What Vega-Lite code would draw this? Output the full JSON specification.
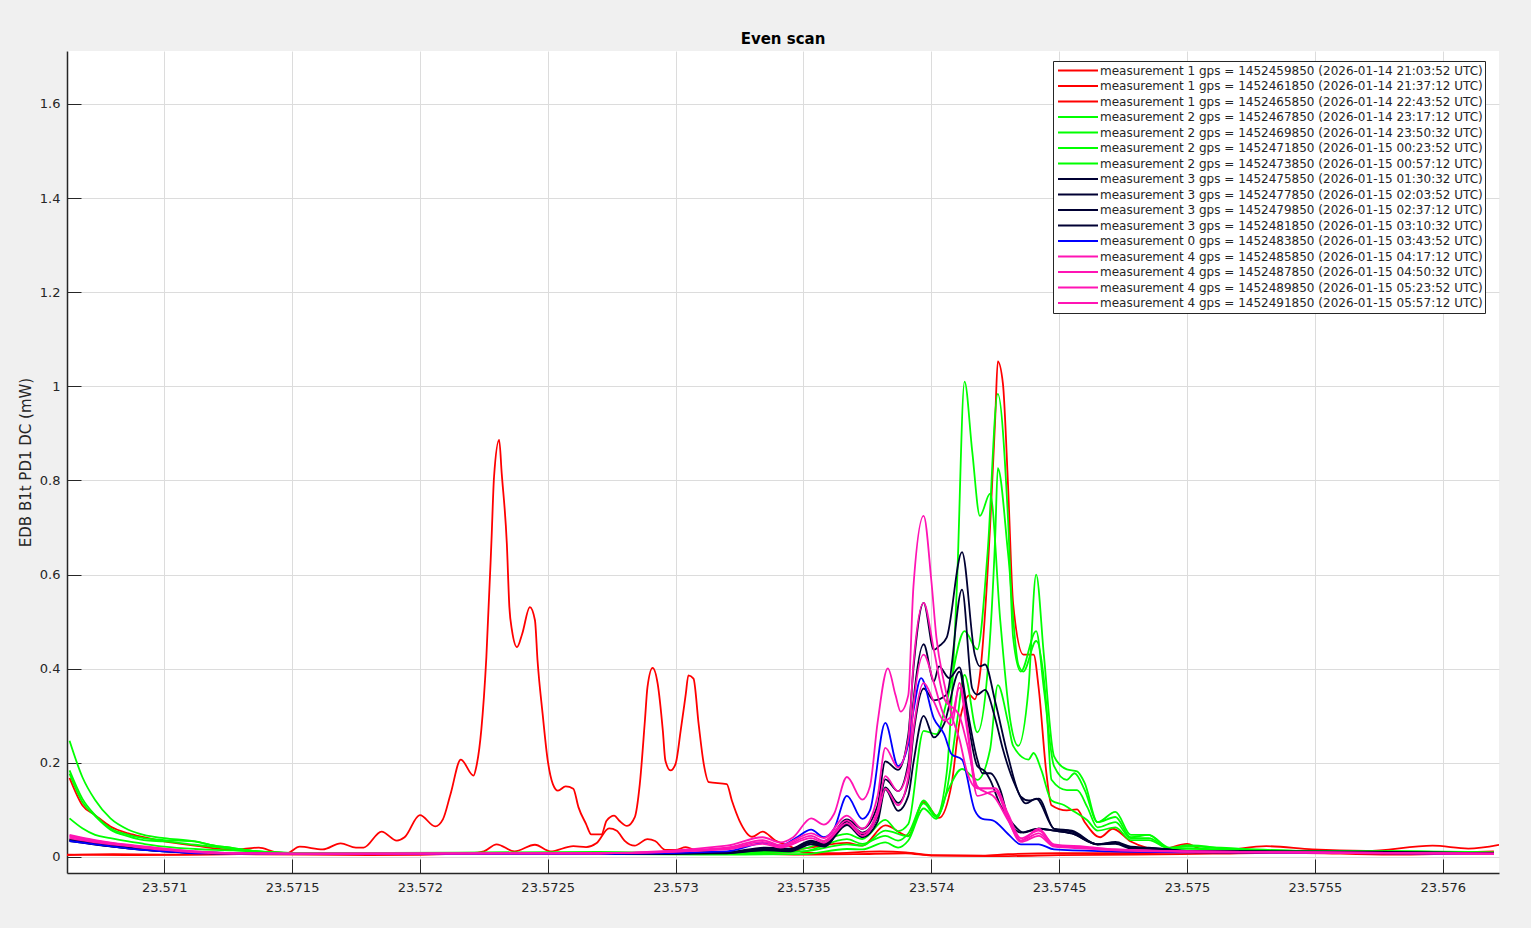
{"$schema":"https://vega.github.io/schema/vega-lite/v6.json","width":1432,"height":822,"autosize":{"type":"none"},"padding":{"left":67,"top":51,"right":32,"bottom":55},"background":"#f0f0f0","view":{"fill":"white","stroke":null},"title":{"text":"Even scan","font":"DejaVu Sans","fontSize":15,"fontWeight":"bold","color":"#000000","offset":4,"anchor":"middle"},"datasets":{"meta":[{"s":1,"name":"measurement 1 gps = 1452459850 (2026-01-14 21:03:52 UTC)"},{"s":2,"name":"measurement 1 gps = 1452461850 (2026-01-14 21:37:12 UTC)"},{"s":3,"name":"measurement 1 gps = 1452465850 (2026-01-14 22:43:52 UTC)"},{"s":4,"name":"measurement 2 gps = 1452467850 (2026-01-14 23:17:12 UTC)"},{"s":5,"name":"measurement 2 gps = 1452469850 (2026-01-14 23:50:32 UTC)"},{"s":6,"name":"measurement 2 gps = 1452471850 (2026-01-15 00:23:52 UTC)"},{"s":7,"name":"measurement 2 gps = 1452473850 (2026-01-15 00:57:12 UTC)"},{"s":8,"name":"measurement 3 gps = 1452475850 (2026-01-15 01:30:32 UTC)"},{"s":9,"name":"measurement 3 gps = 1452477850 (2026-01-15 02:03:52 UTC)"},{"s":10,"name":"measurement 3 gps = 1452479850 (2026-01-15 02:37:12 UTC)"},{"s":11,"name":"measurement 3 gps = 1452481850 (2026-01-15 03:10:32 UTC)"},{"s":12,"name":"measurement 0 gps = 1452483850 (2026-01-15 03:43:52 UTC)"},{"s":13,"name":"measurement 4 gps = 1452485850 (2026-01-15 04:17:12 UTC)"},{"s":14,"name":"measurement 4 gps = 1452487850 (2026-01-15 04:50:32 UTC)"},{"s":15,"name":"measurement 4 gps = 1452489850 (2026-01-15 05:23:52 UTC)"},{"s":16,"name":"measurement 4 gps = 1452491850 (2026-01-15 05:57:12 UTC)"}],
"rows":[
{"s":1,"x":23.57062,"y":0.004},{"s":1,"x":23.5708,"y":0.006},{"s":1,"x":23.571,"y":0.005},{"s":1,"x":23.5713,"y":0.006},{"s":1,"x":23.57148,"y":0.008},{"s":1,"x":23.57153,"y":0.022},{"s":1,"x":23.57162,"y":0.016},{"s":1,"x":23.57169,"y":0.029},{"s":1,"x":23.57175,"y":0.02},{"s":1,"x":23.57178,"y":0.02},{"s":1,"x":23.57185,"y":0.054},{"s":1,"x":23.57191,"y":0.035},{"s":1,"x":23.57194,"y":0.042},{"s":1,"x":23.572,"y":0.089},{"s":1,"x":23.57206,"y":0.065},{"s":1,"x":23.57209,"y":0.08},{"s":1,"x":23.57212,"y":0.134},{"s":1,"x":23.57216,"y":0.207},{"s":1,"x":23.57221,"y":0.173},{"s":1,"x":23.57222,"y":0.19},{"s":1,"x":23.57224,"y":0.269},{"s":1,"x":23.57226,"y":0.425},{"s":1,"x":23.57228,"y":0.673},{"s":1,"x":23.57229,"y":0.808},{"s":1,"x":23.57231,"y":0.886},{"s":1,"x":23.57232,"y":0.815},{"s":1,"x":23.57234,"y":0.666},{"s":1,"x":23.57235,"y":0.531},{"s":1,"x":23.57236,"y":0.482},{"s":1,"x":23.57238,"y":0.446},{"s":1,"x":23.5724,"y":0.474},{"s":1,"x":23.57243,"y":0.531},{"s":1,"x":23.57245,"y":0.503},{"s":1,"x":23.57246,"y":0.418},{"s":1,"x":23.57248,"y":0.304},{"s":1,"x":23.5725,"y":0.205},{"s":1,"x":23.57252,"y":0.155},{"s":1,"x":23.57254,"y":0.141},{"s":1,"x":23.57257,"y":0.15},{"s":1,"x":23.5726,"y":0.145},{"s":1,"x":23.57262,"y":0.106},{"s":1,"x":23.57265,"y":0.07},{"s":1,"x":23.57267,"y":0.048},{"s":1,"x":23.57271,"y":0.048},{"s":1,"x":23.57273,"y":0.077},{"s":1,"x":23.57276,"y":0.088},{"s":1,"x":23.57278,"y":0.077},{"s":1,"x":23.57281,"y":0.066},{"s":1,"x":23.57284,"y":0.084},{"s":1,"x":23.57286,"y":0.155},{"s":1,"x":23.57288,"y":0.29},{"s":1,"x":23.57289,"y":0.361},{"s":1,"x":23.57291,"y":0.402},{"s":1,"x":23.57293,"y":0.368},{"s":1,"x":23.57295,"y":0.269},{"s":1,"x":23.57296,"y":0.205},{"s":1,"x":23.57298,"y":0.184},{"s":1,"x":23.573,"y":0.198},{"s":1,"x":23.57302,"y":0.269},{"s":1,"x":23.57304,"y":0.347},{"s":1,"x":23.57305,"y":0.386},{"s":1,"x":23.57307,"y":0.379},{"s":1,"x":23.57309,"y":0.283},{"s":1,"x":23.57311,"y":0.198},{"s":1,"x":23.57313,"y":0.159},{"s":1,"x":23.5732,"y":0.155},{"s":1,"x":23.57322,"y":0.12},{"s":1,"x":23.57325,"y":0.077},{"s":1,"x":23.5733,"y":0.043},{"s":1,"x":23.57334,"y":0.054},{"s":1,"x":23.57339,"y":0.035},{"s":1,"x":23.57345,"y":0.022},{"s":1,"x":23.5735,"y":0.01},{"s":1,"x":23.5736,"y":0.008},{"s":1,"x":23.5738,"y":0.012},{"s":1,"x":23.5739,"y":0.01},{"s":1,"x":23.574,"y":0.004},{"s":1,"x":23.5742,"y":0.003},{"s":1,"x":23.5743,"y":0.006},{"s":1,"x":23.5745,"y":0.008},{"s":1,"x":23.5747,"y":0.008},{"s":1,"x":23.575,"y":0.01},{"s":1,"x":23.57515,"y":0.014},{"s":1,"x":23.57531,"y":0.023},{"s":1,"x":23.57549,"y":0.016},{"s":1,"x":23.5757,"y":0.013},{"s":1,"x":23.57596,"y":0.024},{"s":1,"x":23.5761,"y":0.018},{"s":1,"x":23.57622,"y":0.026},
{"s":2,"x":23.57062,"y":0.005},{"s":2,"x":23.5709,"y":0.004},{"s":2,"x":23.5713,"y":0.006},{"s":2,"x":23.5718,"y":0.004},{"s":2,"x":23.5722,"y":0.008},{"s":2,"x":23.57225,"y":0.012},{"s":2,"x":23.5723,"y":0.027},{"s":2,"x":23.57237,"y":0.012},{"s":2,"x":23.57245,"y":0.026},{"s":2,"x":23.57251,"y":0.012},{"s":2,"x":23.5726,"y":0.023},{"s":2,"x":23.57265,"y":0.021},{"s":2,"x":23.57269,"y":0.029},{"s":2,"x":23.57274,"y":0.061},{"s":2,"x":23.57277,"y":0.056},{"s":2,"x":23.5728,"y":0.035},{"s":2,"x":23.57284,"y":0.024},{"s":2,"x":23.57289,"y":0.038},{"s":2,"x":23.57292,"y":0.034},{"s":2,"x":23.57296,"y":0.015},{"s":2,"x":23.573,"y":0.015},{"s":2,"x":23.57304,"y":0.021},{"s":2,"x":23.57308,"y":0.014},{"s":2,"x":23.5732,"y":0.01},{"s":2,"x":23.5735,"y":0.005},{"s":2,"x":23.5737,"y":0.006},{"s":2,"x":23.5739,"y":0.008},{"s":2,"x":23.574,"y":0.003},{"s":2,"x":23.5743,"y":0.002},{"s":2,"x":23.5745,"y":0.004},{"s":2,"x":23.5748,"y":0.005},{"s":2,"x":23.5751,"y":0.007},{"s":2,"x":23.5754,"y":0.009},{"s":2,"x":23.5758,"y":0.005},{"s":2,"x":23.5762,"y":0.01},
{"s":3,"x":23.57063,"y":0.168},{"s":3,"x":23.57068,"y":0.11},{"s":3,"x":23.57073,"y":0.089},{"s":3,"x":23.57079,"y":0.065},{"s":3,"x":23.57086,"y":0.05},{"s":3,"x":23.57092,"y":0.042},{"s":3,"x":23.571,"y":0.033},{"s":3,"x":23.57112,"y":0.024},{"s":3,"x":23.57127,"y":0.015},{"s":3,"x":23.57137,"y":0.02},{"s":3,"x":23.57144,"y":0.01},{"s":3,"x":23.5716,"y":0.006},{"s":3,"x":23.5725,"y":0.006},{"s":3,"x":23.5733,"y":0.008},{"s":3,"x":23.5735,"y":0.018},{"s":3,"x":23.57367,"y":0.03},{"s":3,"x":23.57373,"y":0.024},{"s":3,"x":23.57382,"y":0.067},{"s":3,"x":23.57391,"y":0.045},{"s":3,"x":23.57397,"y":0.117},{"s":3,"x":23.57403,"y":0.083},{"s":3,"x":23.57408,"y":0.157},{"s":3,"x":23.57411,"y":0.286},{"s":3,"x":23.57415,"y":0.344},{"s":3,"x":23.57417,"y":0.335},{"s":3,"x":23.57419,"y":0.387},{"s":3,"x":23.57423,"y":0.704},{"s":3,"x":23.57425,"y":0.934},{"s":3,"x":23.57426,"y":1.053},{"s":3,"x":23.57428,"y":1.006},{"s":3,"x":23.5743,"y":0.79},{"s":3,"x":23.57432,"y":0.538},{"s":3,"x":23.57436,"y":0.43},{"s":3,"x":23.5744,"y":0.43},{"s":3,"x":23.57442,"y":0.358},{"s":3,"x":23.57445,"y":0.178},{"s":3,"x":23.57447,"y":0.11},{"s":3,"x":23.57453,"y":0.099},{"s":3,"x":23.57457,"y":0.101},{"s":3,"x":23.5746,"y":0.074},{"s":3,"x":23.57466,"y":0.042},{"s":3,"x":23.57471,"y":0.06},{"s":3,"x":23.57478,"y":0.033},{"s":3,"x":23.5749,"y":0.016},{"s":3,"x":23.575,"y":0.028},{"s":3,"x":23.57505,"y":0.018},{"s":3,"x":23.5752,"y":0.012},{"s":3,"x":23.5755,"y":0.012},{"s":3,"x":23.5758,"y":0.008},{"s":3,"x":23.5762,"y":0.012},
{"s":4,"x":23.57063,"y":0.247},{"s":4,"x":23.57068,"y":0.17},{"s":4,"x":23.57073,"y":0.121},{"s":4,"x":23.57079,"y":0.082},{"s":4,"x":23.57086,"y":0.058},{"s":4,"x":23.57092,"y":0.047},{"s":4,"x":23.571,"y":0.04},{"s":4,"x":23.57112,"y":0.033},{"s":4,"x":23.57118,"y":0.026},{"s":4,"x":23.57127,"y":0.019},{"s":4,"x":23.57137,"y":0.012},{"s":4,"x":23.57144,"y":0.01},{"s":4,"x":23.5716,"y":0.008},{"s":4,"x":23.5725,"y":0.008},{"s":4,"x":23.5731,"y":0.009},{"s":4,"x":23.5735,"y":0.012},{"s":4,"x":23.57367,"y":0.027},{"s":4,"x":23.57373,"y":0.024},{"s":4,"x":23.57382,"y":0.056},{"s":4,"x":23.57391,"y":0.044},{"s":4,"x":23.57397,"y":0.12},{"s":4,"x":23.57402,"y":0.088},{"s":4,"x":23.57406,"y":0.178},{"s":4,"x":23.5741,"y":0.574},{"s":4,"x":23.57413,"y":1.01},{"s":4,"x":23.57416,"y":0.862},{"s":4,"x":23.57419,"y":0.725},{"s":4,"x":23.57423,"y":0.772},{"s":4,"x":23.57427,"y":0.5},{"s":4,"x":23.57431,"y":0.286},{"s":4,"x":23.57434,"y":0.236},{"s":4,"x":23.57438,"y":0.358},{"s":4,"x":23.57441,"y":0.6},{"s":4,"x":23.57444,"y":0.43},{"s":4,"x":23.57448,"y":0.214},{"s":4,"x":23.57453,"y":0.186},{"s":4,"x":23.57457,"y":0.182},{"s":4,"x":23.5746,"y":0.157},{"s":4,"x":23.57465,"y":0.074},{"s":4,"x":23.57472,"y":0.096},{"s":4,"x":23.57478,"y":0.047},{"s":4,"x":23.57485,"y":0.047},{"s":4,"x":23.57493,"y":0.018},{"s":4,"x":23.575,"y":0.025},{"s":4,"x":23.5752,"y":0.015},{"s":4,"x":23.5755,"y":0.012},{"s":4,"x":23.5758,"y":0.012},{"s":4,"x":23.5762,"y":0.008},
{"s":5,"x":23.57063,"y":0.184},{"s":5,"x":23.57068,"y":0.124},{"s":5,"x":23.57073,"y":0.089},{"s":5,"x":23.57079,"y":0.061},{"s":5,"x":23.57086,"y":0.047},{"s":5,"x":23.57092,"y":0.04},{"s":5,"x":23.571,"y":0.036},{"s":5,"x":23.57112,"y":0.033},{"s":5,"x":23.57118,"y":0.026},{"s":5,"x":23.57127,"y":0.019},{"s":5,"x":23.57137,"y":0.012},{"s":5,"x":23.5716,"y":0.008},{"s":5,"x":23.5727,"y":0.011},{"s":5,"x":23.5731,"y":0.008},{"s":5,"x":23.5735,"y":0.018},{"s":5,"x":23.57367,"y":0.049},{"s":5,"x":23.57373,"y":0.038},{"s":5,"x":23.57382,"y":0.079},{"s":5,"x":23.57387,"y":0.055},{"s":5,"x":23.57391,"y":0.07},{"s":5,"x":23.57397,"y":0.268},{"s":5,"x":23.57402,"y":0.261},{"s":5,"x":23.57406,"y":0.33},{"s":5,"x":23.57413,"y":0.48},{"s":5,"x":23.57418,"y":0.441},{"s":5,"x":23.57422,"y":0.646},{"s":5,"x":23.57426,"y":0.984},{"s":5,"x":23.5743,"y":0.718},{"s":5,"x":23.57432,"y":0.466},{"s":5,"x":23.57435,"y":0.394},{"s":5,"x":23.57441,"y":0.48},{"s":5,"x":23.57444,"y":0.358},{"s":5,"x":23.57448,"y":0.193},{"s":5,"x":23.57453,"y":0.164},{"s":5,"x":23.57456,"y":0.178},{"s":5,"x":23.5746,"y":0.142},{"s":5,"x":23.57465,"y":0.074},{"s":5,"x":23.57472,"y":0.085},{"s":5,"x":23.57478,"y":0.042},{"s":5,"x":23.57485,"y":0.047},{"s":5,"x":23.57493,"y":0.02},{"s":5,"x":23.575,"y":0.022},{"s":5,"x":23.5752,"y":0.018},{"s":5,"x":23.5755,"y":0.012},{"s":5,"x":23.5759,"y":0.012},{"s":5,"x":23.5762,"y":0.01},
{"s":6,"x":23.57063,"y":0.177},{"s":6,"x":23.57068,"y":0.117},{"s":6,"x":23.57073,"y":0.087},{"s":6,"x":23.57079,"y":0.058},{"s":6,"x":23.57086,"y":0.044},{"s":6,"x":23.57092,"y":0.036},{"s":6,"x":23.571,"y":0.033},{"s":6,"x":23.57112,"y":0.026},{"s":6,"x":23.57127,"y":0.017},{"s":6,"x":23.57144,"y":0.009},{"s":6,"x":23.5716,"y":0.007},{"s":6,"x":23.5725,"y":0.007},{"s":6,"x":23.5731,"y":0.006},{"s":6,"x":23.5735,"y":0.012},{"s":6,"x":23.57367,"y":0.038},{"s":6,"x":23.57373,"y":0.028},{"s":6,"x":23.57382,"y":0.045},{"s":6,"x":23.57387,"y":0.035},{"s":6,"x":23.57391,"y":0.05},{"s":6,"x":23.57397,"y":0.114},{"s":6,"x":23.57402,"y":0.085},{"s":6,"x":23.57406,"y":0.14},{"s":6,"x":23.5741,"y":0.286},{"s":6,"x":23.57413,"y":0.387},{"s":6,"x":23.57418,"y":0.265},{"s":6,"x":23.57422,"y":0.394},{"s":6,"x":23.57425,"y":0.682},{"s":6,"x":23.57426,"y":0.826},{"s":6,"x":23.5743,"y":0.646},{"s":6,"x":23.57434,"y":0.409},{"s":6,"x":23.57436,"y":0.394},{"s":6,"x":23.57441,"y":0.459},{"s":6,"x":23.57445,"y":0.322},{"s":6,"x":23.57447,"y":0.164},{"s":6,"x":23.57453,"y":0.142},{"s":6,"x":23.57457,"y":0.142},{"s":6,"x":23.57461,"y":0.106},{"s":6,"x":23.57465,"y":0.063},{"s":6,"x":23.57472,"y":0.074},{"s":6,"x":23.57478,"y":0.04},{"s":6,"x":23.57485,"y":0.04},{"s":6,"x":23.57493,"y":0.018},{"s":6,"x":23.575,"y":0.018},{"s":6,"x":23.5752,"y":0.014},{"s":6,"x":23.5755,"y":0.013},{"s":6,"x":23.5758,"y":0.012},{"s":6,"x":23.5762,"y":0.009},
{"s":7,"x":23.57063,"y":0.082},{"s":7,"x":23.57068,"y":0.061},{"s":7,"x":23.57073,"y":0.047},{"s":7,"x":23.57079,"y":0.04},{"s":7,"x":23.57086,"y":0.033},{"s":7,"x":23.57092,"y":0.028},{"s":7,"x":23.571,"y":0.022},{"s":7,"x":23.57112,"y":0.017},{"s":7,"x":23.57127,"y":0.014},{"s":7,"x":23.57144,"y":0.008},{"s":7,"x":23.5716,"y":0.007},{"s":7,"x":23.5725,"y":0.007},{"s":7,"x":23.5731,"y":0.005},{"s":7,"x":23.5735,"y":0.006},{"s":7,"x":23.57367,"y":0.017},{"s":7,"x":23.57373,"y":0.016},{"s":7,"x":23.57382,"y":0.031},{"s":7,"x":23.57387,"y":0.02},{"s":7,"x":23.57391,"y":0.035},{"s":7,"x":23.57397,"y":0.103},{"s":7,"x":23.57402,"y":0.081},{"s":7,"x":23.57406,"y":0.135},{"s":7,"x":23.57412,"y":0.187},{"s":7,"x":23.57418,"y":0.164},{"s":7,"x":23.57423,"y":0.229},{"s":7,"x":23.57426,"y":0.365},{"s":7,"x":23.5743,"y":0.286},{"s":7,"x":23.57432,"y":0.236},{"s":7,"x":23.57438,"y":0.207},{"s":7,"x":23.5744,"y":0.221},{"s":7,"x":23.57443,"y":0.185},{"s":7,"x":23.57447,"y":0.12},{"s":7,"x":23.57452,"y":0.11},{"s":7,"x":23.57456,"y":0.096},{"s":7,"x":23.57461,"y":0.078},{"s":7,"x":23.57465,"y":0.056},{"s":7,"x":23.57472,"y":0.063},{"s":7,"x":23.57478,"y":0.036},{"s":7,"x":23.57485,"y":0.036},{"s":7,"x":23.57493,"y":0.018},{"s":7,"x":23.575,"y":0.018},{"s":7,"x":23.5752,"y":0.015},{"s":7,"x":23.5756,"y":0.011},{"s":7,"x":23.5762,"y":0.008},
{"s":8,"x":23.57063,"y":0.038},{"s":8,"x":23.5708,"y":0.025},{"s":8,"x":23.571,"y":0.014},{"s":8,"x":23.5712,"y":0.009},{"s":8,"x":23.5716,"y":0.006},{"s":8,"x":23.5727,"y":0.006},{"s":8,"x":23.5732,"y":0.01},{"s":8,"x":23.57335,"y":0.02},{"s":8,"x":23.57345,"y":0.018},{"s":8,"x":23.57353,"y":0.035},{"s":8,"x":23.57358,"y":0.028},{"s":8,"x":23.57367,"y":0.08},{"s":8,"x":23.57373,"y":0.06},{"s":8,"x":23.57379,"y":0.11},{"s":8,"x":23.57382,"y":0.203},{"s":8,"x":23.57387,"y":0.185},{"s":8,"x":23.57391,"y":0.26},{"s":8,"x":23.57393,"y":0.4},{"s":8,"x":23.57397,"y":0.54},{"s":8,"x":23.57401,"y":0.44},{"s":8,"x":23.57403,"y":0.448},{"s":8,"x":23.57406,"y":0.466},{"s":8,"x":23.57412,"y":0.648},{"s":8,"x":23.57417,"y":0.43},{"s":8,"x":23.57419,"y":0.405},{"s":8,"x":23.57421,"y":0.409},{"s":8,"x":23.57425,"y":0.33},{"s":8,"x":23.5743,"y":0.214},{"s":8,"x":23.57435,"y":0.128},{"s":8,"x":23.57438,"y":0.12},{"s":8,"x":23.57442,"y":0.124},{"s":8,"x":23.57448,"y":0.06},{"s":8,"x":23.57455,"y":0.056},{"s":8,"x":23.57465,"y":0.027},{"s":8,"x":23.57472,"y":0.032},{"s":8,"x":23.57478,"y":0.022},{"s":8,"x":23.57485,"y":0.02},{"s":8,"x":23.575,"y":0.013},{"s":8,"x":23.5755,"y":0.011},{"s":8,"x":23.5762,"y":0.007},
{"s":9,"x":23.57063,"y":0.036},{"s":9,"x":23.5708,"y":0.023},{"s":9,"x":23.571,"y":0.013},{"s":9,"x":23.5712,"y":0.009},{"s":9,"x":23.5716,"y":0.006},{"s":9,"x":23.5727,"y":0.007},{"s":9,"x":23.5732,"y":0.009},{"s":9,"x":23.57335,"y":0.018},{"s":9,"x":23.57345,"y":0.016},{"s":9,"x":23.57353,"y":0.032},{"s":9,"x":23.57358,"y":0.026},{"s":9,"x":23.57367,"y":0.075},{"s":9,"x":23.57373,"y":0.052},{"s":9,"x":23.57379,"y":0.09},{"s":9,"x":23.57382,"y":0.165},{"s":9,"x":23.57387,"y":0.14},{"s":9,"x":23.57391,"y":0.2},{"s":9,"x":23.57393,"y":0.33},{"s":9,"x":23.57397,"y":0.452},{"s":9,"x":23.57401,"y":0.373},{"s":9,"x":23.57403,"y":0.405},{"s":9,"x":23.57407,"y":0.38},{"s":9,"x":23.57411,"y":0.403},{"s":9,"x":23.57414,"y":0.315},{"s":9,"x":23.57418,"y":0.207},{"s":9,"x":23.5742,"y":0.178},{"s":9,"x":23.57423,"y":0.178},{"s":9,"x":23.57427,"y":0.142},{"s":9,"x":23.5743,"y":0.085},{"s":9,"x":23.57435,"y":0.052},{"s":9,"x":23.57442,"y":0.06},{"s":9,"x":23.57448,"y":0.056},{"s":9,"x":23.57455,"y":0.05},{"s":9,"x":23.57465,"y":0.027},{"s":9,"x":23.57472,"y":0.03},{"s":9,"x":23.57478,"y":0.02},{"s":9,"x":23.57485,"y":0.018},{"s":9,"x":23.575,"y":0.012},{"s":9,"x":23.5755,"y":0.012},{"s":9,"x":23.5762,"y":0.008},
{"s":10,"x":23.57063,"y":0.034},{"s":10,"x":23.5708,"y":0.022},{"s":10,"x":23.571,"y":0.012},{"s":10,"x":23.5712,"y":0.008},{"s":10,"x":23.5716,"y":0.006},{"s":10,"x":23.5727,"y":0.006},{"s":10,"x":23.5732,"y":0.009},{"s":10,"x":23.57335,"y":0.016},{"s":10,"x":23.57345,"y":0.014},{"s":10,"x":23.57353,"y":0.03},{"s":10,"x":23.57358,"y":0.024},{"s":10,"x":23.57367,"y":0.07},{"s":10,"x":23.57373,"y":0.048},{"s":10,"x":23.57379,"y":0.085},{"s":10,"x":23.57382,"y":0.148},{"s":10,"x":23.57387,"y":0.115},{"s":10,"x":23.57391,"y":0.16},{"s":10,"x":23.57393,"y":0.26},{"s":10,"x":23.57397,"y":0.358},{"s":10,"x":23.57401,"y":0.333},{"s":10,"x":23.57406,"y":0.345},{"s":10,"x":23.57412,"y":0.568},{"s":10,"x":23.57416,"y":0.358},{"s":10,"x":23.57418,"y":0.345},{"s":10,"x":23.57421,"y":0.355},{"s":10,"x":23.57425,"y":0.294},{"s":10,"x":23.57428,"y":0.229},{"s":10,"x":23.57433,"y":0.15},{"s":10,"x":23.57437,"y":0.114},{"s":10,"x":23.57441,"y":0.124},{"s":10,"x":23.57448,"y":0.06},{"s":10,"x":23.57455,"y":0.054},{"s":10,"x":23.57465,"y":0.027},{"s":10,"x":23.57472,"y":0.03},{"s":10,"x":23.57478,"y":0.02},{"s":10,"x":23.5749,"y":0.018},{"s":10,"x":23.575,"y":0.012},{"s":10,"x":23.5755,"y":0.011},{"s":10,"x":23.5762,"y":0.008},
{"s":11,"x":23.57063,"y":0.036},{"s":11,"x":23.5708,"y":0.022},{"s":11,"x":23.571,"y":0.012},{"s":11,"x":23.5712,"y":0.008},{"s":11,"x":23.5716,"y":0.006},{"s":11,"x":23.5727,"y":0.006},{"s":11,"x":23.5732,"y":0.008},{"s":11,"x":23.57335,"y":0.014},{"s":11,"x":23.57345,"y":0.012},{"s":11,"x":23.57353,"y":0.027},{"s":11,"x":23.57358,"y":0.022},{"s":11,"x":23.57367,"y":0.068},{"s":11,"x":23.57373,"y":0.042},{"s":11,"x":23.57379,"y":0.075},{"s":11,"x":23.57382,"y":0.144},{"s":11,"x":23.57387,"y":0.098},{"s":11,"x":23.57391,"y":0.13},{"s":11,"x":23.57393,"y":0.2},{"s":11,"x":23.57397,"y":0.3},{"s":11,"x":23.57401,"y":0.254},{"s":11,"x":23.57405,"y":0.283},{"s":11,"x":23.57411,"y":0.394},{"s":11,"x":23.57414,"y":0.3},{"s":11,"x":23.57418,"y":0.193},{"s":11,"x":23.57421,"y":0.182},{"s":11,"x":23.57423,"y":0.164},{"s":11,"x":23.57427,"y":0.11},{"s":11,"x":23.57432,"y":0.07},{"s":11,"x":23.57436,"y":0.052},{"s":11,"x":23.57442,"y":0.06},{"s":11,"x":23.57448,"y":0.056},{"s":11,"x":23.57455,"y":0.05},{"s":11,"x":23.57465,"y":0.027},{"s":11,"x":23.57472,"y":0.028},{"s":11,"x":23.57478,"y":0.018},{"s":11,"x":23.5749,"y":0.017},{"s":11,"x":23.575,"y":0.012},{"s":11,"x":23.5755,"y":0.01},{"s":11,"x":23.5762,"y":0.007},
{"s":12,"x":23.57063,"y":0.034},{"s":12,"x":23.57073,"y":0.027},{"s":12,"x":23.57086,"y":0.018},{"s":12,"x":23.571,"y":0.012},{"s":12,"x":23.57112,"y":0.008},{"s":12,"x":23.5716,"y":0.006},{"s":12,"x":23.5727,"y":0.006},{"s":12,"x":23.5732,"y":0.012},{"s":12,"x":23.57335,"y":0.03},{"s":12,"x":23.57341,"y":0.024},{"s":12,"x":23.57347,"y":0.04},{"s":12,"x":23.57353,"y":0.058},{"s":12,"x":23.57358,"y":0.042},{"s":12,"x":23.57362,"y":0.06},{"s":12,"x":23.57367,"y":0.13},{"s":12,"x":23.57373,"y":0.081},{"s":12,"x":23.57376,"y":0.099},{"s":12,"x":23.57382,"y":0.285},{"s":12,"x":23.57387,"y":0.193},{"s":12,"x":23.57391,"y":0.24},{"s":12,"x":23.57393,"y":0.31},{"s":12,"x":23.57396,"y":0.38},{"s":12,"x":23.57401,"y":0.294},{"s":12,"x":23.57405,"y":0.261},{"s":12,"x":23.57408,"y":0.218},{"s":12,"x":23.57412,"y":0.207},{"s":12,"x":23.57417,"y":0.099},{"s":12,"x":23.5742,"y":0.081},{"s":12,"x":23.57424,"y":0.078},{"s":12,"x":23.5743,"y":0.049},{"s":12,"x":23.57435,"y":0.027},{"s":12,"x":23.57442,"y":0.027},{"s":12,"x":23.57448,"y":0.016},{"s":12,"x":23.5747,"y":0.012},{"s":12,"x":23.575,"y":0.01},{"s":12,"x":23.5755,"y":0.009},{"s":12,"x":23.5762,"y":0.006},
{"s":13,"x":23.57063,"y":0.047},{"s":13,"x":23.57073,"y":0.036},{"s":13,"x":23.57086,"y":0.026},{"s":13,"x":23.571,"y":0.018},{"s":13,"x":23.57112,"y":0.012},{"s":13,"x":23.57127,"y":0.008},{"s":13,"x":23.5716,"y":0.007},{"s":13,"x":23.5727,"y":0.008},{"s":13,"x":23.5732,"y":0.024},{"s":13,"x":23.57334,"y":0.042},{"s":13,"x":23.57341,"y":0.031},{"s":13,"x":23.57346,"y":0.042},{"s":13,"x":23.57353,"y":0.082},{"s":13,"x":23.57358,"y":0.069},{"s":13,"x":23.57362,"y":0.092},{"s":13,"x":23.57367,"y":0.17},{"s":13,"x":23.57373,"y":0.122},{"s":13,"x":23.57376,"y":0.15},{"s":13,"x":23.57379,"y":0.286},{"s":13,"x":23.57383,"y":0.401},{"s":13,"x":23.57386,"y":0.344},{"s":13,"x":23.57388,"y":0.309},{"s":13,"x":23.57391,"y":0.344},{"s":13,"x":23.57393,"y":0.574},{"s":13,"x":23.57397,"y":0.725},{"s":13,"x":23.574,"y":0.588},{"s":13,"x":23.57402,"y":0.466},{"s":13,"x":23.57405,"y":0.37},{"s":13,"x":23.57408,"y":0.3},{"s":13,"x":23.57411,"y":0.25},{"s":13,"x":23.57414,"y":0.18},{"s":13,"x":23.57418,"y":0.146},{"s":13,"x":23.57425,"y":0.146},{"s":13,"x":23.5743,"y":0.092},{"s":13,"x":23.57435,"y":0.04},{"s":13,"x":23.57442,"y":0.056},{"s":13,"x":23.57448,"y":0.027},{"s":13,"x":23.5746,"y":0.022},{"s":13,"x":23.57472,"y":0.016},{"s":13,"x":23.575,"y":0.012},{"s":13,"x":23.5755,"y":0.01},{"s":13,"x":23.5762,"y":0.007},
{"s":14,"x":23.57063,"y":0.045},{"s":14,"x":23.57073,"y":0.035},{"s":14,"x":23.57086,"y":0.025},{"s":14,"x":23.571,"y":0.017},{"s":14,"x":23.57112,"y":0.012},{"s":14,"x":23.57127,"y":0.008},{"s":14,"x":23.5716,"y":0.007},{"s":14,"x":23.5727,"y":0.008},{"s":14,"x":23.5732,"y":0.02},{"s":14,"x":23.57334,"y":0.036},{"s":14,"x":23.57341,"y":0.025},{"s":14,"x":23.57353,"y":0.05},{"s":14,"x":23.57358,"y":0.04},{"s":14,"x":23.57367,"y":0.088},{"s":14,"x":23.57373,"y":0.06},{"s":14,"x":23.57379,"y":0.13},{"s":14,"x":23.57382,"y":0.232},{"s":14,"x":23.57387,"y":0.19},{"s":14,"x":23.57391,"y":0.25},{"s":14,"x":23.57393,"y":0.41},{"s":14,"x":23.57397,"y":0.54},{"s":14,"x":23.57401,"y":0.44},{"s":14,"x":23.57405,"y":0.337},{"s":14,"x":23.57411,"y":0.3},{"s":14,"x":23.57414,"y":0.24},{"s":14,"x":23.57418,"y":0.15},{"s":14,"x":23.57425,"y":0.125},{"s":14,"x":23.5743,"y":0.078},{"s":14,"x":23.57435,"y":0.035},{"s":14,"x":23.57442,"y":0.05},{"s":14,"x":23.57448,"y":0.024},{"s":14,"x":23.5746,"y":0.02},{"s":14,"x":23.57472,"y":0.015},{"s":14,"x":23.575,"y":0.012},{"s":14,"x":23.5755,"y":0.01},{"s":14,"x":23.5762,"y":0.007},
{"s":15,"x":23.57063,"y":0.043},{"s":15,"x":23.57073,"y":0.033},{"s":15,"x":23.57086,"y":0.024},{"s":15,"x":23.571,"y":0.016},{"s":15,"x":23.57112,"y":0.011},{"s":15,"x":23.57127,"y":0.008},{"s":15,"x":23.5716,"y":0.007},{"s":15,"x":23.5727,"y":0.008},{"s":15,"x":23.5732,"y":0.018},{"s":15,"x":23.57334,"y":0.032},{"s":15,"x":23.57341,"y":0.022},{"s":15,"x":23.57353,"y":0.045},{"s":15,"x":23.57358,"y":0.034},{"s":15,"x":23.57367,"y":0.078},{"s":15,"x":23.57373,"y":0.05},{"s":15,"x":23.57379,"y":0.1},{"s":15,"x":23.57382,"y":0.172},{"s":15,"x":23.57387,"y":0.14},{"s":15,"x":23.57391,"y":0.19},{"s":15,"x":23.57393,"y":0.32},{"s":15,"x":23.57397,"y":0.43},{"s":15,"x":23.57401,"y":0.37},{"s":15,"x":23.57405,"y":0.3},{"s":15,"x":23.57408,"y":0.28},{"s":15,"x":23.57411,"y":0.37},{"s":15,"x":23.57414,"y":0.28},{"s":15,"x":23.57418,"y":0.146},{"s":15,"x":23.57425,"y":0.146},{"s":15,"x":23.5743,"y":0.085},{"s":15,"x":23.57435,"y":0.035},{"s":15,"x":23.57442,"y":0.06},{"s":15,"x":23.57448,"y":0.025},{"s":15,"x":23.5746,"y":0.02},{"s":15,"x":23.57472,"y":0.016},{"s":15,"x":23.575,"y":0.012},{"s":15,"x":23.5755,"y":0.01},{"s":15,"x":23.5762,"y":0.007},
{"s":16,"x":23.57063,"y":0.04},{"s":16,"x":23.57073,"y":0.031},{"s":16,"x":23.57086,"y":0.023},{"s":16,"x":23.571,"y":0.015},{"s":16,"x":23.57112,"y":0.01},{"s":16,"x":23.57127,"y":0.007},{"s":16,"x":23.5716,"y":0.007},{"s":16,"x":23.5727,"y":0.008},{"s":16,"x":23.5732,"y":0.016},{"s":16,"x":23.57334,"y":0.028},{"s":16,"x":23.57341,"y":0.02},{"s":16,"x":23.57353,"y":0.04},{"s":16,"x":23.57358,"y":0.03},{"s":16,"x":23.57367,"y":0.072},{"s":16,"x":23.57373,"y":0.045},{"s":16,"x":23.57379,"y":0.09},{"s":16,"x":23.57382,"y":0.145},{"s":16,"x":23.57387,"y":0.11},{"s":16,"x":23.57391,"y":0.17},{"s":16,"x":23.57393,"y":0.27},{"s":16,"x":23.57397,"y":0.37},{"s":16,"x":23.57401,"y":0.33},{"s":16,"x":23.57405,"y":0.29},{"s":16,"x":23.57408,"y":0.3},{"s":16,"x":23.57411,"y":0.36},{"s":16,"x":23.57414,"y":0.27},{"s":16,"x":23.57418,"y":0.13},{"s":16,"x":23.57425,"y":0.14},{"s":16,"x":23.5743,"y":0.08},{"s":16,"x":23.57435,"y":0.032},{"s":16,"x":23.57442,"y":0.045},{"s":16,"x":23.57448,"y":0.022},{"s":16,"x":23.5746,"y":0.018},{"s":16,"x":23.57472,"y":0.014},{"s":16,"x":23.575,"y":0.011},{"s":16,"x":23.5755,"y":0.009},{"s":16,"x":23.5762,"y":0.006}
]},
"data":{"name":"rows"},
"transform":[{"lookup":"s","from":{"data":{"name":"meta"},"key":"s","fields":["name"]}}],
"mark":{"type":"line","clip":true,"strokeWidth":1.8,"interpolate":"monotone"},
"encoding":{
"x":{"field":"x","type":"quantitative","scale":{"domain":[23.57062,23.57622],"nice":false,"zero":false},"axis":{"title":null,"values":[23.571,23.5715,23.572,23.5725,23.573,23.5735,23.574,23.5745,23.575,23.5755,23.576],"format":".4~f","tickSize":-14,"tickColor":"#262626","domainColor":"#262626","domainWidth":1.5,"labelColor":"#262626","labelFont":"DejaVu Sans","labelFontSize":13,"labelPadding":22,"gridColor":"#dcdcdc","labelOverlap":false,"labelFlush":false}},
"y":{"field":"y","type":"quantitative","scale":{"domain":[-0.034,1.7126],"nice":false,"zero":false},"axis":{"title":"EDB B1t PD1 DC (mW)","titleFont":"DejaVu Sans","titleFontSize":15,"titleFontWeight":"normal","titleColor":"#262626","titlePadding":6,"values":[0,0.2,0.4,0.6,0.8,1,1.2,1.4,1.6],"format":"~g","tickSize":-14,"tickColor":"#262626","domainColor":"#262626","domainWidth":1.5,"labelColor":"#262626","labelFont":"DejaVu Sans","labelFontSize":13,"labelPadding":21,"gridColor":"#dcdcdc"}},
"color":{"field":"name","type":"nominal","sort":null,"scale":{"domain":["measurement 1 gps = 1452459850 (2026-01-14 21:03:52 UTC)","measurement 1 gps = 1452461850 (2026-01-14 21:37:12 UTC)","measurement 1 gps = 1452465850 (2026-01-14 22:43:52 UTC)","measurement 2 gps = 1452467850 (2026-01-14 23:17:12 UTC)","measurement 2 gps = 1452469850 (2026-01-14 23:50:32 UTC)","measurement 2 gps = 1452471850 (2026-01-15 00:23:52 UTC)","measurement 2 gps = 1452473850 (2026-01-15 00:57:12 UTC)","measurement 3 gps = 1452475850 (2026-01-15 01:30:32 UTC)","measurement 3 gps = 1452477850 (2026-01-15 02:03:52 UTC)","measurement 3 gps = 1452479850 (2026-01-15 02:37:12 UTC)","measurement 3 gps = 1452481850 (2026-01-15 03:10:32 UTC)","measurement 0 gps = 1452483850 (2026-01-15 03:43:52 UTC)","measurement 4 gps = 1452485850 (2026-01-15 04:17:12 UTC)","measurement 4 gps = 1452487850 (2026-01-15 04:50:32 UTC)","measurement 4 gps = 1452489850 (2026-01-15 05:23:52 UTC)","measurement 4 gps = 1452491850 (2026-01-15 05:57:12 UTC)"],"range":["#ff0000","#ff0000","#ff0000","#00ff00","#00ff00","#00ff00","#00ff00","#000033","#000033","#000033","#000033","#0000ff","#ff14b4","#ff14b4","#ff14b4","#ff14b4"]},"legend":{"title":null,"orient":"none","legendX":986,"legendY":10,"fillColor":"#ffffff","strokeColor":"#262626","cornerRadius":0,"padding":2,"symbolOffset":2,"symbolType":"stroke","symbolSize":1600,"symbolStrokeWidth":2,"labelFont":"DejaVu Sans","labelFontSize":12,"labelColor":"#262626","labelOffset":1,"labelLimit":500,"rowPadding":0.5,"clipHeight":15}}
}}
